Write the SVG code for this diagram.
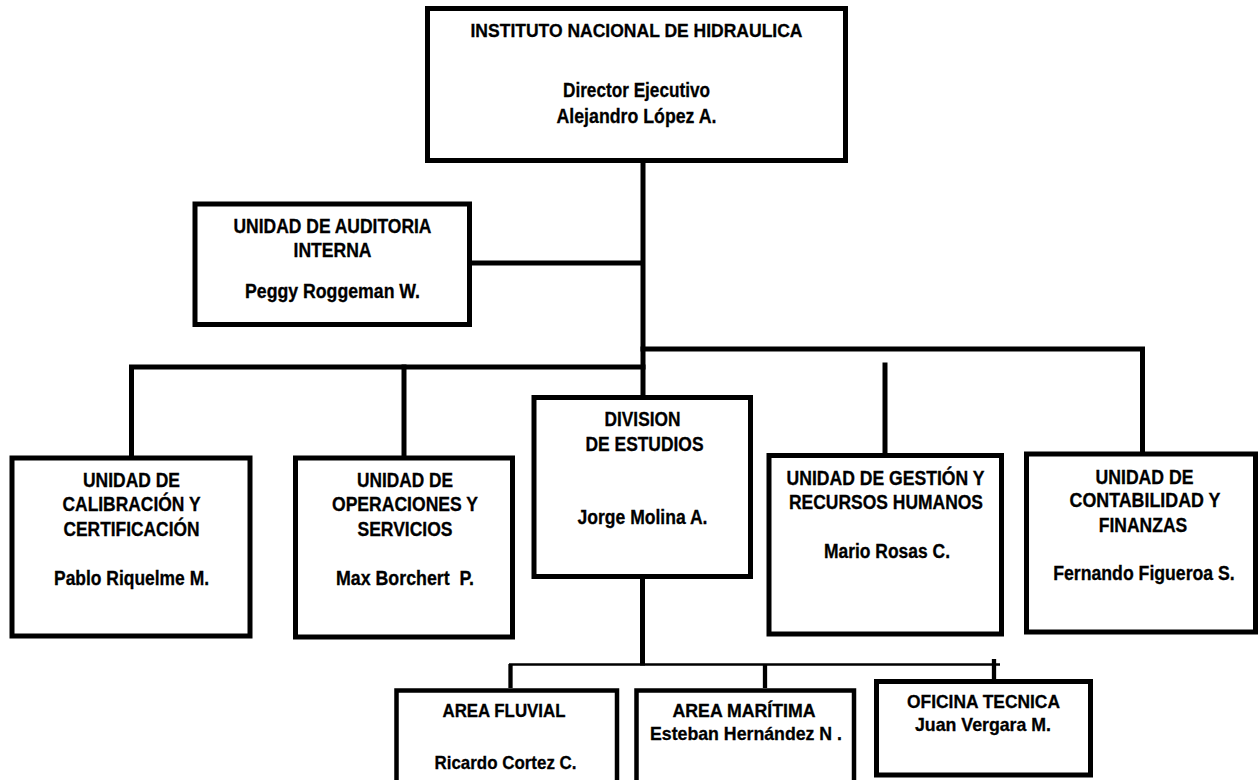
<svg xmlns="http://www.w3.org/2000/svg" width="1258" height="780" viewBox="0 0 1258 780">
<style>
.box{fill:#fff;stroke:#000;stroke-width:5}
.sbox{fill:#fff;stroke:#000;stroke-width:4.5}
.ln{fill:none;stroke:#000;stroke-width:5;stroke-linecap:square;stroke-linejoin:miter}
.thin{fill:none;stroke:#000;stroke-width:2.5}
.mid{fill:none;stroke:#000;stroke-width:4.3}
text{font-family:"Liberation Sans",Arial,sans-serif;font-weight:bold;fill:#000;stroke:#000;stroke-width:0.3;text-anchor:middle;font-size:19.5px}
.t1{font-size:19px}
.t2{font-size:21px}
.t3{font-size:19px}
</style>
<rect width="1258" height="780" fill="#fff"/>
<g id="connectors">
<path class="ln" d="M643,163 V395"/>
<path class="ln" d="M473,263 H641"/>
<path class="ln" d="M643,349 H1142.5 V451"/>
<path class="ln" d="M643,367 H131.5 V455"/>
<path class="ln" d="M404,367 V455"/>
<path class="ln" d="M885,365 V452"/>
<path class="ln" d="M642.5,580 V663"/>
<path class="thin" d="M509,664.5 H1000"/>
<path class="mid" d="M510.5,664 V688"/>
<path class="mid" d="M765,664 V688"/>
<path class="mid" d="M994,659 V679"/>
</g>
<g id="n-instituto">
<rect class="box" x="427.5" y="8.5" width="418" height="152"/>
<text class="t1" x="636.5" y="37" textLength="332" lengthAdjust="spacingAndGlyphs">INSTITUTO NACIONAL DE HIDRAULICA</text>
<text class="t2" x="636.5" y="97" textLength="147" lengthAdjust="spacingAndGlyphs">Director Ejecutivo</text>
<text class="t2" x="636.5" y="123" textLength="160" lengthAdjust="spacingAndGlyphs">Alejandro López A.</text>
</g>
<g id="n-auditoria">
<rect class="box" x="195" y="204" width="274.5" height="120.5"/>
<text x="332.5" y="233" textLength="198" lengthAdjust="spacingAndGlyphs">UNIDAD DE AUDITORIA</text>
<text x="332.5" y="257" textLength="78" lengthAdjust="spacingAndGlyphs">INTERNA</text>
<text x="332.5" y="298" textLength="175" lengthAdjust="spacingAndGlyphs">Peggy Roggeman W.</text>
</g>
<g id="n-calibracion">
<rect class="box" x="12" y="458" width="238" height="178"/>
<text x="131.5" y="487" textLength="97" lengthAdjust="spacingAndGlyphs">UNIDAD DE</text>
<text x="131.5" y="511" textLength="138" lengthAdjust="spacingAndGlyphs">CALIBRACIÓN Y</text>
<text x="131.5" y="536" textLength="136" lengthAdjust="spacingAndGlyphs">CERTIFICACIÓN</text>
<text x="131.5" y="585" textLength="155" lengthAdjust="spacingAndGlyphs">Pablo Riquelme M.</text>
</g>
<g id="n-operaciones">
<rect class="box" x="295.5" y="458" width="217" height="179"/>
<text x="405" y="487" textLength="96" lengthAdjust="spacingAndGlyphs">UNIDAD DE</text>
<text x="405" y="511" textLength="146" lengthAdjust="spacingAndGlyphs">OPERACIONES Y</text>
<text x="405" y="536" textLength="95" lengthAdjust="spacingAndGlyphs">SERVICIOS</text>
<text x="405" y="585" textLength="138" lengthAdjust="spacingAndGlyphs" xml:space="preserve">Max Borchert  P.</text>
</g>
<g id="n-division">
<rect class="box" x="534" y="397.5" width="216.5" height="179"/>
<text x="642.5" y="426" textLength="76" lengthAdjust="spacingAndGlyphs">DIVISION</text>
<text x="644.5" y="450.5" textLength="118" lengthAdjust="spacingAndGlyphs">DE ESTUDIOS</text>
<text x="642.5" y="524" textLength="130" lengthAdjust="spacingAndGlyphs">Jorge Molina A.</text>
</g>
<g id="n-gestion">
<rect class="box" x="769" y="455.5" width="232.5" height="178.5"/>
<text x="885.5" y="485" textLength="198" lengthAdjust="spacingAndGlyphs">UNIDAD DE GESTIÓN Y</text>
<text x="886" y="508.5" textLength="194" lengthAdjust="spacingAndGlyphs">RECURSOS HUMANOS</text>
<text x="887" y="558" textLength="126" lengthAdjust="spacingAndGlyphs">Mario Rosas C.</text>
</g>
<g id="n-contabilidad">
<rect class="box" x="1026.5" y="454" width="229" height="178"/>
<text x="1144.5" y="484" textLength="98" lengthAdjust="spacingAndGlyphs">UNIDAD DE</text>
<text x="1145" y="507" textLength="151" lengthAdjust="spacingAndGlyphs">CONTABILIDAD Y</text>
<text x="1143" y="531.5" textLength="88.5" lengthAdjust="spacingAndGlyphs">FINANZAS</text>
<text x="1144" y="580" textLength="181.5" lengthAdjust="spacingAndGlyphs">Fernando Figueroa S.</text>
</g>
<g id="n-fluvial">
<rect class="sbox" x="396.5" y="690.5" width="220.5" height="95"/>
<text class="t3" x="504" y="717" textLength="123" lengthAdjust="spacingAndGlyphs">AREA FLUVIAL</text>
<text class="t3" x="505.5" y="769" textLength="142" lengthAdjust="spacingAndGlyphs">Ricardo Cortez C.</text>
</g>
<g id="n-maritima">
<rect class="sbox" x="636.5" y="690.5" width="217.5" height="95"/>
<text class="t3" x="744" y="717" textLength="143" lengthAdjust="spacingAndGlyphs">AREA MARÍTIMA</text>
<text class="t3" x="746" y="740" textLength="192" lengthAdjust="spacingAndGlyphs">Esteban Hernández N .</text>
</g>
<g id="n-oficina">
<rect class="box" x="876.5" y="681.5" width="214" height="93.5"/>
<text class="t3" x="983.5" y="707.5" textLength="153" lengthAdjust="spacingAndGlyphs">OFICINA TECNICA</text>
<text class="t3" x="983" y="731" textLength="136" lengthAdjust="spacingAndGlyphs">Juan Vergara M.</text>
</g>
</svg>
